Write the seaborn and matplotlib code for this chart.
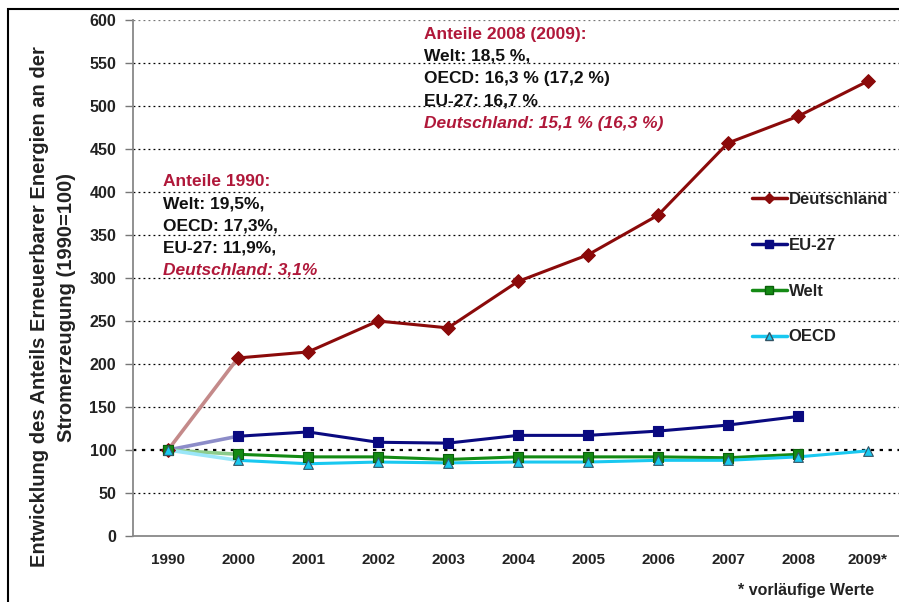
import matplotlib
matplotlib.use("Agg")
import matplotlib.pyplot as plt
import matplotlib.patches as mpatches
from matplotlib.lines import Line2D
import numpy as np
import pandas as pd
import seaborn as sns

# Data (index 1990 = 100)
years = ["1990", "2000", "2001", "2002", "2003", "2004", "2005", "2006", "2007", "2008", "2009*"]
deutschland = [100, 207, 214, 250, 242, 296, 327, 373, 457, 488, 529]
eu27 = [100, 116, 121, 109, 108, 117, 117, 122, 129, 139, np.nan]
welt = [100, 95, 92, 92, 89, 92, 92, 92, 91, 95, np.nan]
oecd = [100, 88, 84, 86, 85, 86, 86, 88, 88, 92, 99]

series_names = ["Deutschland", "EU-27", "Welt", "OECD"]
series_values = [deutschland, eu27, welt, oecd]

# Styles
styles = {
    "Deutschland": dict(color="#8b0a0a", fade="#c48a8a", marker="D", ms=7, mec="#8b0a0a"),
    "EU-27": dict(color="#0a0a80", fade="#8c8cc8", marker="s", ms=7, mec="#0a0a80"),
    "Welt": dict(color="#148a14", fade="#8ccc8c", marker="s", ms=7, mec="#0a600a"),
    "OECD": dict(color="#19c8f0", fade="#9ae6f8", marker="^", ms=7, mec="#335566"),
}

# Long form table
rows = []
for name, vals in zip(series_names, series_values):
    for i, (yr, v) in enumerate(zip(years, vals)):
        rows.append({"serie": name, "pos": i, "jahr": yr, "wert": v})
df = pd.DataFrame(rows).dropna()

sns.set_theme(style="white")
plt.rcParams["font.family"] = ["Liberation Sans", "DejaVu Sans"]

fig = plt.figure(figsize=(8.99, 6.02), dpi=100)
ax = fig.add_axes([133 / 899, 66 / 602, 770 / 899, 516 / 602])

# Horizontal dotted gridlines
for yv in range(50, 601, 50):
    lw = 1.6 if yv == 100 else 0.9
    col = "#777777" if yv == 600 else "black"
    ax.axhline(yv, color=col, lw=lw, ls=(0, (1.5, 2.5)), zorder=0)

for name in series_names:
    st = styles[name]
    sub = df[df["serie"] == name]
    # faded first segment 1990 -> 2000
    first = sub[sub["pos"] <= 1]
    sns.lineplot(data=first, x="pos", y="wert", ax=ax, color=st["fade"], lw=2.6,
                 legend=False, zorder=2)
    rest = sub[sub["pos"] >= 1]
    sns.lineplot(data=rest, x="pos", y="wert", ax=ax, color=st["color"], lw=2.2,
                 legend=False, zorder=3)
    sns.scatterplot(data=sub, x="pos", y="wert", ax=ax, color=st["color"], marker=st["marker"],
                    s=st["ms"] ** 2, edgecolor=st["mec"], linewidth=0.8, legend=False, zorder=4)

ax.set_xlim(-0.5, 10.5)
ax.set_ylim(0, 600)
ax.set_yticks(range(0, 601, 50))
ax.set_xticks(range(len(years)))
ax.set_xticklabels(years, fontsize=11, fontweight="bold", color="#222222")
ax.set_yticklabels([str(v) for v in range(0, 601, 50)], fontsize=11.5, fontweight="bold", color="#222222")
ax.set_xticks(np.arange(-0.5, 10.5, 1), minor=True)
ax.tick_params(axis="x", which="major", length=0, pad=12)
ax.tick_params(axis="x", which="minor", length=5, width=1, color="#777777", direction="in")
ax.tick_params(axis="y", length=6, width=1, color="#777777", direction="out", left=True, pad=6)
ax.set_xlabel("")
ax.set_ylabel("")
fig.text(53 / 899, 1 - 307 / 602,
         "Entwicklung des Anteils Erneuerbarer Energien an der\nStromerzeugung (1990=100)",
         rotation=90, fontsize=14.5, fontweight="bold", color="#222222", linespacing=1.5,
         ha="center", va="center", multialignment="center")

for side in ["top", "right"]:
    ax.spines[side].set_visible(False)
for side in ["left", "bottom"]:
    ax.spines[side].set_color("#888888")
    ax.spines[side].set_linewidth(1.3)

# Legend
handles = []
for name in series_names:
    st = styles[name]
    handles.append(Line2D([0], [0], color=st["color"], lw=2.5, marker=st["marker"],
                          ms=st["ms"] - 1.5, mfc=st["color"], mec=st["mec"], label=name))
leg = ax.legend(handles=handles, loc="upper left", bbox_to_anchor=(0.784, 0.696), frameon=False,
                labelspacing=1.85, handlelength=2.1, handletextpad=0.12,
                prop={"weight": "bold", "size": 12})
for t in leg.get_texts():
    t.set_color("#222222")

red = "#b0183a"
# Annotation 1990
ann1 = [("Anteile 1990:", red, "normal"), ("Welt: 19,5%,", "#111111", "normal"),
        ("OECD: 17,3%,", "#111111", "normal"), ("EU-27: 11,9%,", "#111111", "normal"),
        ("Deutschland: 3,1%", red, "italic")]
for k, (txt, c, sty) in enumerate(ann1):
    fig.text(163 / 899, 1 - (182 + 22 * k) / 602, txt, color=c, fontsize=12.5, fontweight="bold",
             style=sty, va="center", ha="left")

ann2 = [("Anteile 2008 (2009):", red, "normal"), ("Welt: 18,5 %,", "#111111", "normal"),
        ("OECD: 16,3 % (17,2 %)", "#111111", "normal"), ("EU-27: 16,7 %", "#111111", "normal"),
        ("Deutschland: 15,1 % (16,3 %)", red, "italic")]
for k, (txt, c, sty) in enumerate(ann2):
    fig.text(424 / 899, 1 - (34 + 22.3 * k) / 602, txt, color=c, fontsize=12.5, fontweight="bold",
             style=sty, va="center", ha="left")

fig.text(738 / 899, 1 - 591 / 602, "* vorläufige Werte", fontsize=11.5, fontweight="bold",
         color="#222222", va="center", ha="left")

# outer frame
frame = mpatches.Rectangle((8 / 899, -0.05), 1.2, 1 - 9 / 602 + 0.05, transform=fig.transFigure,
                           fill=False, edgecolor="black", lw=1.5)
fig.patches.append(frame)

fig.savefig("out.png", dpi=100)
